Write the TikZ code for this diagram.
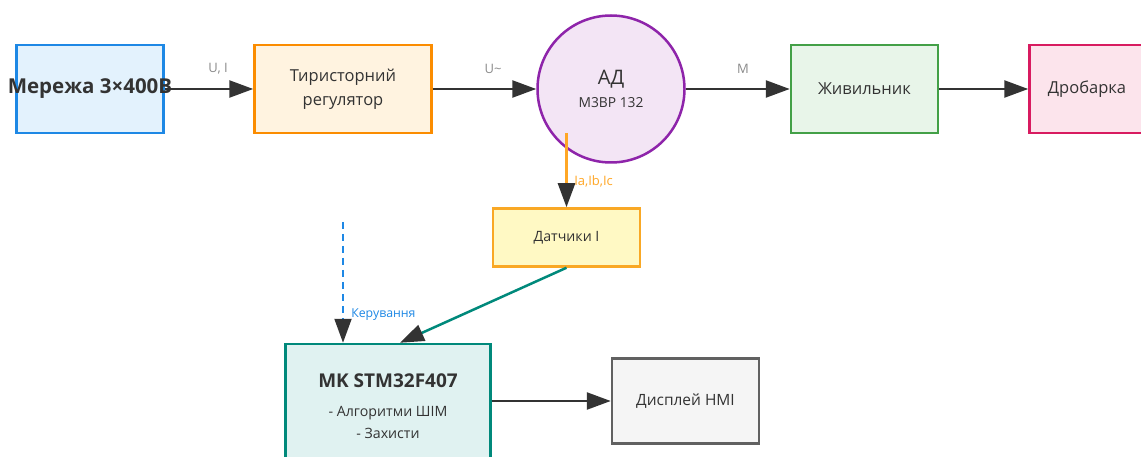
\documentclass[tikz,border=0pt]{standalone}
\usepackage{fontspec}
\setmainfont{Open Sans}
\usetikzlibrary{arrows.meta}
\definecolor{txt}{HTML}{333333}
\definecolor{arr}{HTML}{333333}
\definecolor{lbl}{HTML}{8A8A8A}
\definecolor{netfill}{HTML}{E3F2FD}\definecolor{netdraw}{HTML}{1E88E5}
\definecolor{regfill}{HTML}{FFF3E0}\definecolor{regdraw}{HTML}{FB8C00}
\definecolor{adfill}{HTML}{F3E5F5}\definecolor{addraw}{HTML}{8E24AA}
\definecolor{feedfill}{HTML}{E8F5E9}\definecolor{feeddraw}{HTML}{43A047}
\definecolor{crushfill}{HTML}{FCE4EC}\definecolor{crushdraw}{HTML}{D81B60}
\definecolor{sensfill}{HTML}{FFF9C4}\definecolor{sensdraw}{HTML}{F9A825}
\definecolor{mcufill}{HTML}{E0F2F1}\definecolor{mcudraw}{HTML}{00897B}
\definecolor{dispfill}{HTML}{F5F5F5}\definecolor{dispdraw}{HTML}{616161}
\definecolor{ctlblue}{HTML}{1E88E5}
\definecolor{curorange}{HTML}{FFA726}

\tikzset{every picture/.style={line width=2.5pt}}

\begin{document}
\begin{tikzpicture}[x=1pt,y=1pt,yscale=-1,xscale=1,
  box/.style={draw, line width=2.5pt, minimum width=147pt, minimum height=88pt, align=center, text=txt, font=\fontsize{16.5}{24}\selectfont},
  flow/.style={draw=arr, line width=2.5pt, -{Triangle[length=24pt,width=17pt,color=arr]}},
  lbl/.style={text=lbl, font=\fontsize{13}{15}\selectfont}]
\clip (0,0) rectangle (1141,457);
\fill[white] (0,0) rectangle (1141,457);

%Shape: Rectangle [id:net]
\node[box, fill=netfill, draw=netdraw] (net) at (90,89) {\makebox[0pt]{\fontsize{20.5}{24}\selectfont\bfseries Мережа 3×400В}};
%Shape: Rectangle [id:reg]
\node[box, fill=regfill, draw=regdraw, minimum width=177pt] (reg) at (343,89) {Тиристорний\\регулятор};
%Shape: Circle [id:ad]
\node[circle, draw=addraw, fill=adfill, line width=2.5pt, minimum size=147pt, align=center, text=txt, font=\fontsize{14}{23}\selectfont] (ad) at (611,89) {{\fontsize{20}{23}\selectfont АД}\\{\fontsize{13.8}{23}\selectfont М3ВР 132}};
%Shape: Rectangle [id:feed]
\node[box, fill=feedfill, draw=feeddraw] (feed) at (864.5,89) {Живильник};
%Shape: Rectangle [id:crush]
\node[box, fill=crushfill, draw=crushdraw, minimum width=115pt] (crush) at (1087,89) {Дробарка};
%Shape: Rectangle [id:sens]
\node[box, fill=sensfill, draw=sensdraw, minimum height=58pt, font=\fontsize{14.2}{18}\selectfont] (sens) at (566.5,237.5) {Датчики I};
%Shape: Rectangle [id:mcu]
\node[box, fill=mcufill, draw=mcudraw, minimum width=205pt, minimum height=124pt, font=\fontsize{14.2}{22}\selectfont] (mcu) at (388,406) {{\fontsize{19}{22}\selectfont\bfseries MK STM32F407}\\[7pt]- Алгоритми ШІМ\\- Захисти};
%Shape: Rectangle [id:disp]
\node[box, fill=dispfill, draw=dispdraw, minimum height=85pt, font=\fontsize{15.5}{18}\selectfont] (disp) at (685.5,401) {Дисплей HMI};

\coordinate (tap) at (566.5,133);
\coordinate (ctl) at (343,222);

\draw[flow] (net) -- (reg);
\draw[flow] (reg) -- (ad);
\draw[flow] (ad) -- (feed);
\draw[flow] (feed) -- (crush);
\draw[flow, draw=curorange] (tap) -- (sens.north);
\draw[flow, draw=mcudraw] (sens.south) -- ([xshift=12pt]mcu.north);
\draw[flow, draw=ctlblue, dashed, line width=2pt, dash pattern=on 7pt off 5pt] (ctl) -- (ctl |- mcu.north);
\draw[flow] (mcu.east |- disp.west) -- (disp.west);

% Text Node
\node[lbl] (lui) at (218,69) {U, I};
% Text Node
\node[lbl] (lu) at (493,69) {U\textasciitilde};
% Text Node
\node[lbl] (lm) at (743,69) {M};
% Text Node
\node[lbl, text=curorange, anchor=west, inner sep=0pt] (lcur) at (573,181) {Ia,Ib,Ic};
% Text Node
\node[lbl, text=ctlblue, anchor=west, inner sep=0pt, font=\fontsize{12.3}{14}\selectfont] (lctl) at (350,315) {Керування};

\end{tikzpicture}
\end{document}
